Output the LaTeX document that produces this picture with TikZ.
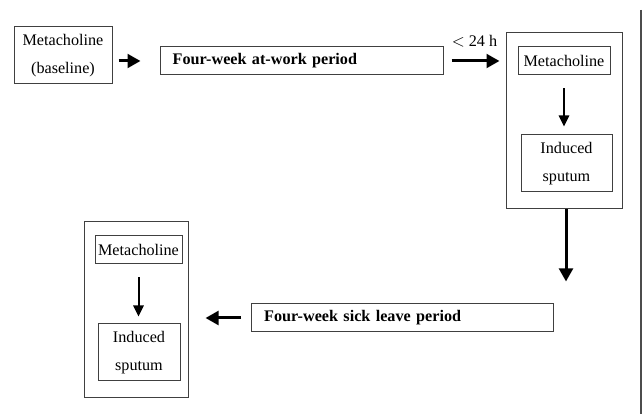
\documentclass[tikz,border=0pt]{standalone}
\usepackage{fontspec}
\setmainfont{Liberation Serif}
\usetikzlibrary{arrows.meta}
\begin{document}
\begin{tikzpicture}[x=0.6pt, y=-0.6pt,
  box/.style={draw=black!75, line width=0.6pt, inner sep=0pt, align=center,
    font=\fontsize{9.7}{16.8}\selectfont},
  period/.style={box, align=left, inner xsep=7.6pt, font=\fontsize{9.7}{16.8}\selectfont\bfseries},
  bigarrow/.style={line width=1.8pt, -{Triangle[length=7.8pt, width=8.2pt]}},
  smallarrow/.style={line width=1.2pt, -{Triangle[length=6.6pt, width=6.2pt]}}]
\useasboundingbox (0, 0) rectangle (644, 414);

% First row
\node[box, minimum width=58.8pt, minimum height=34.2pt] (base) at (63, 55.5) {Metacholine\\(baseline)};
\node[period, text width=154.6pt, minimum height=16.8pt] (work) at (301.5, 61) {Four-week at-work period};

% Right group
\node[draw=black!75, line width=0.6pt, minimum width=69.6pt, minimum height=105.6pt] (groupR) at (564, 121) {};
\node[box, minimum width=55.2pt, minimum height=16.8pt] (metaR) at (564, 61) {Metacholine};
\node[box, minimum width=54.6pt, minimum height=34.2pt] (sputR) at (566.5, 163.5) {Induced\\sputum};

% Second row
\node[period, text width=166pt, minimum height=16.8pt] (sick) at (402.5, 318) {Four-week sick leave period};

% Left group
\node[draw=black!75, line width=0.6pt, minimum width=62.4pt, minimum height=105.6pt] (groupL) at (136, 310) {};
\node[box, minimum width=52.2pt, minimum height=16.8pt] (metaL) at (138.5, 250) {Metacholine};
\node[box, minimum width=49.2pt, minimum height=34.2pt] (sputL) at (139, 352.5) {Induced\\sputum};

% Arrows
\draw[bigarrow, shorten <=3.6pt, shorten >=11.4pt] (base.east |- work) -- (work.west);
\draw[bigarrow, shorten <=4.8pt, shorten >=3.6pt] (work.east) -- node[above=4pt, font=\fontsize{9.7}{11}\selectfont] (delay) {$<$ 24 h} (groupR.west |- work);
\draw[smallarrow, shorten <=7.8pt, shorten >=4.8pt] (metaR.south) -- (metaR.south |- sputR.north);
\draw[bigarrow, shorten >=13.2pt] ([xshift=1.2pt]groupR.south) -- ([xshift=1.2pt]groupR.south |- sick.north);
\draw[bigarrow, shorten <=6pt, shorten >=10.2pt] (sick.west) -- (groupL.east |- sick);
\draw[smallarrow, shorten <=7.8pt, shorten >=4.2pt] (metaL.south) -- (metaL.south |- sputL.north);

% Right edge rule
\coordinate (ruleTop) at (641, 10);
\coordinate (ruleEnd) at (641, 414);
\draw[black!70, line width=0.9pt] (ruleTop) -- (ruleEnd);
\end{tikzpicture}
\end{document}
